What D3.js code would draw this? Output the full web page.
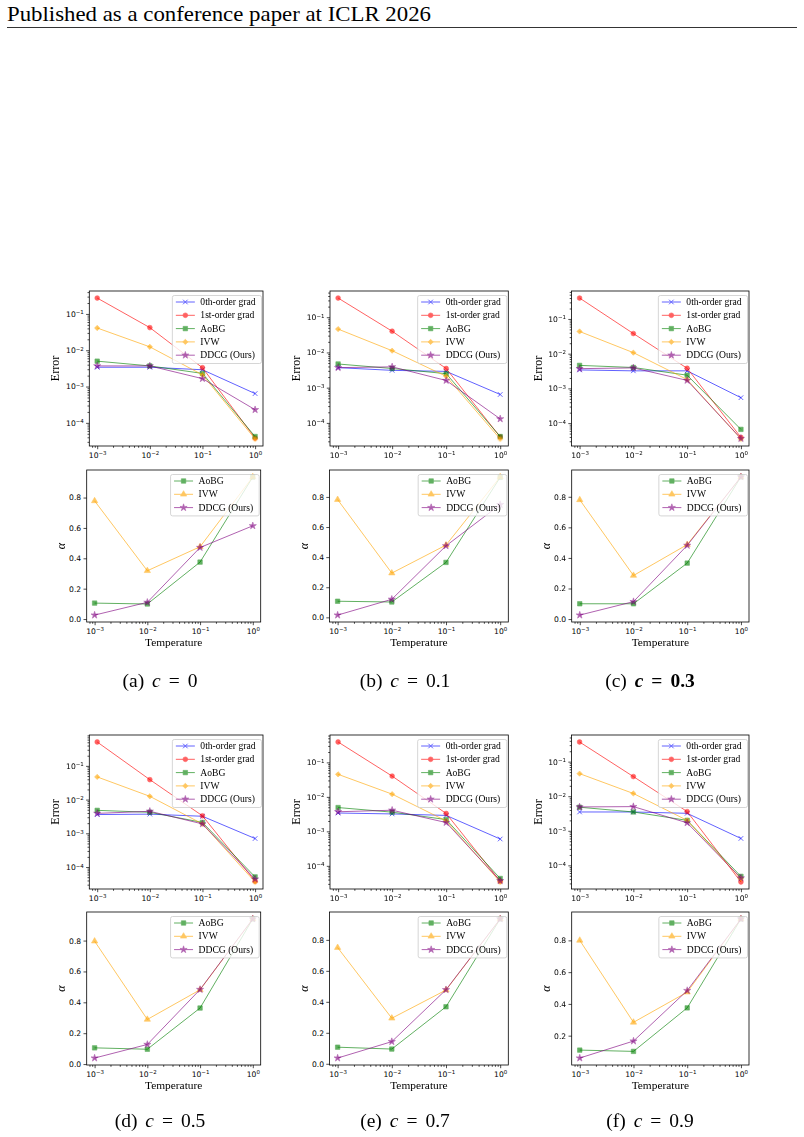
<!DOCTYPE html>
<html>
<head>
<meta charset="utf-8">
<script src="https://cdn.jsdelivr.net/npm/d3@7"></script>
<style>
  body { margin: 0; background: #fff; }
</style>
</head>
<body>
<script>
// temperatures on the x axis
const temps = [1e-3, 1e-2, 1e-1, 1];
const panelLetters = ["a", "b", "c", "d", "e", "f"];
const cValues = ["0", "0.1", "0.3", "0.5", "0.7", "0.9"];
const errLabels = ["0th-order grad", "1st-order grad", "AoBG", "IVW", "DDCG (Ours)"];
const alphaLabels = ["AoBG", "IVW", "DDCG (Ours)"];

// error values, one row per panel (a..f)
const err0th = [
  [0.0034, 0.0034, 0.0029, 6.4e-4],
  [0.0037, 0.0031, 0.0029, 6.4e-4],
  [0.0034, 0.0032, 0.0032, 5.4e-4],
  [0.0036, 0.0037, 0.0032, 7.0e-4],
  [0.0034, 0.0032, 0.0029, 6.0e-4],
  [0.0035, 0.0035, 0.0032, 6.0e-4]
];
const err1st = [
  [0.274, 0.042, 0.0033, 3.8e-5],
  [0.35, 0.040, 0.0035, 4.0e-5],
  [0.40, 0.038, 0.0038, 3.9e-5],
  [0.51, 0.039, 0.0033, 3.8e-5],
  [0.39, 0.040, 0.0033, 3.6e-5],
  [0.37, 0.037, 0.0036, 3.3e-5]
];
const errAoBG = [
  [0.0050, 0.0037, 0.0023, 4.2e-5],
  [0.0047, 0.0035, 0.0025, 4.1e-5],
  [0.0046, 0.0040, 0.0024, 6.6e-5],
  [0.0048, 0.0042, 0.0021, 5.1e-5],
  [0.0049, 0.0036, 0.0022, 4.3e-5],
  [0.0048, 0.0035, 0.0020, 4.8e-5]
];
const errIVW = [
  [0.041, 0.0124, 0.0021, 3.6e-5],
  [0.046, 0.0112, 0.0021, 3.5e-5],
  [0.0436, 0.0107, 0.0018, 3.5e-5],
  [0.047, 0.0125, 0.0019, 3.6e-5],
  [0.045, 0.012, 0.0020, 3.4e-5],
  [0.045, 0.012, 0.0020, 4.1e-5]
];
const errDDCG = [
  [0.0037, 0.0037, 0.00165, 2.3e-4],
  [0.0037, 0.0039, 0.0016, 1.3e-4],
  [0.0037, 0.0039, 0.0017, 3.6e-5],
  [0.0039, 0.0045, 0.0019, 4.4e-5],
  [0.0037, 0.0041, 0.0018, 3.7e-5],
  [0.0049, 0.0050, 0.0017, 4.3e-5]
];

// alpha values
const alphaAoBG = [
  [0.105, 0.099, 0.375, 0.935],
  [0.107, 0.102, 0.365, 0.930],
  [0.100, 0.100, 0.366, 0.930],
  [0.105, 0.096, 0.363, 0.940],
  [0.107, 0.095, 0.368, 0.935],
  [0.109, 0.101, 0.375, 0.935]
];
const alphaIVW = [
  [0.778, 0.318, 0.476, 0.936],
  [0.782, 0.294, 0.480, 0.933],
  [0.780, 0.285, 0.487, 0.930],
  [0.796, 0.289, 0.481, 0.940],
  [0.750, 0.294, 0.476, 0.935],
  [0.800, 0.284, 0.474, 0.935]
];
const alphaDDCG = [
  [0.026, 0.110, 0.471, 0.614],
  [0.015, 0.120, 0.475, 0.749],
  [0.026, 0.114, 0.482, 0.930],
  [0.039, 0.127, 0.483, 0.940],
  [0.037, 0.143, 0.478, 0.935],
  [0.059, 0.166, 0.484, 0.935]
];

const W = 804, H = 1137;
const serif = "'Liberation Serif', 'Times New Roman', serif";
const sans = "'DejaVu Sans', sans-serif";
const ALPHA = 0.62;

const svg = d3.select('body').append('svg')
  .attr('width', W).attr('height', H)
  .attr('viewBox', `0 0 ${W} ${H}`);

svg.append('rect').attr('width', W).attr('height', H).attr('fill', '#fff');

// page header
svg.append('text')
  .attr('x', 7).attr('y', 20.5)
  .attr('font-family', serif).attr('font-size', 21)
  .attr('textLength', 424).attr('lengthAdjust', 'spacingAndGlyphs')
  .text('Published as a conference paper at ICLR 2026');
svg.append('line')
  .attr('x1', 7).attr('x2', 797).attr('y1', 27.5).attr('y2', 27.5)
  .attr('stroke', '#000').attr('stroke-width', 0.8);

// column / row frames of the axes boxes
const cols = [
  { tl: 89.3, tr: 263, bl: 86.7, br: 260.7, cap: 160 },
  { tl: 330, tr: 508.3, bl: 329.5, br: 508.3, cap: 405 },
  { tl: 571.5, tr: 749, bl: 571.7, br: 749, cap: 650 }
];
const rows = [
  { tt: 291, tb: 446, bt: 470, bb: 622, cap: 687 },
  { tt: 735, tb: 889, bt: 912, bb: 1065, cap: 1127 }
];

// marker shapes
function markerPath(type) {
  switch (type) {
    case 'x': return 'M-2.3,-2.3L2.3,2.3M-2.3,2.3L2.3,-2.3';
    case 'o': return d3.symbol(d3.symbolCircle, 18)();
    case 's': return d3.symbol(d3.symbolSquare, 20)();
    case 'D': return d3.symbol(d3.symbolSquare, 14)();
    case '^': return d3.symbol(d3.symbolTriangle, 17)();
    case '*': return d3.symbol(d3.symbolStar, 16)();
  }
}
function addMarker(g, type, color, cx, cy) {
  const p = g.append('path')
    .attr('d', markerPath(type))
    .attr('transform', `translate(${cx},${cy})` + (type === 'D' ? ' rotate(45)' : ''));
  if (type === 'x') p.attr('fill', 'none').attr('stroke', color).attr('stroke-width', 1);
  else p.attr('fill', color).attr('stroke', color).attr('stroke-width', 0.6);
  return p;
}

function supLabel(sel, e) {
  sel.append('tspan').text('10');
  sel.append('tspan').attr('dy', '-0.45em').attr('font-size', '0.72em')
    .text(e < 0 ? '\u2212' + (-e) : String(e));
}

const xMajor = [1e-3, 1e-2, 1e-1, 1];
function minorsIn(domain) {
  const out = [];
  for (let k = -6; k <= 2; k++) for (let m = 2; m <= 9; m++) {
    const v = m * Math.pow(10, k);
    if (v >= domain[0] && v <= domain[1]) out.push(v);
  }
  return out;
}

function drawAxes(g, o) {
  const x = d3.scaleLog().domain([Math.pow(10, -3.15), Math.pow(10, 0.15)]).range([o.left, o.right]);
  const all = o.series.flatMap(s => s.vals);
  let y;
  if (o.log) {
    const lo = Math.log10(d3.min(all)), hi = Math.log10(d3.max(all)), m = (hi - lo) * 0.05;
    y = d3.scaleLog().domain([Math.pow(10, lo - m), Math.pow(10, hi + m)]).range([o.bottom, o.top]);
  } else {
    const lo = d3.min(all), hi = d3.max(all), m = (hi - lo) * 0.05;
    y = d3.scaleLinear().domain([lo - m, hi + m]).range([o.bottom, o.top]);
  }

  // x axis: major + minor ticks
  const gx = g.append('g').attr('transform', `translate(0,${o.bottom})`);
  gx.append('g').call(d3.axisBottom(x).tickValues(minorsIn(x.domain())).tickSize(1.8).tickFormat(''));
  const gxm = gx.append('g').call(d3.axisBottom(x).tickValues(xMajor).tickSize(3.2).tickFormat(''));
  gxm.selectAll('.tick').append('text')
    .attr('y', 11.5).attr('fill', '#000')
    .attr('font-family', sans).attr('font-size', 7.6).attr('text-anchor', 'middle')
    .each(function (d) { supLabel(d3.select(this), Math.round(Math.log10(d))); });

  // y axis
  const gy = g.append('g').attr('transform', `translate(${o.left},0)`);
  if (o.log) {
    gy.append('g').call(d3.axisLeft(y).tickValues(minorsIn(y.domain())).tickSize(1.8).tickFormat(''));
    const majors = [];
    for (let k = -8; k <= 2; k++) {
      const v = Math.pow(10, k);
      if (v >= y.domain()[0] && v <= y.domain()[1]) majors.push(v);
    }
    const gym = gy.append('g').call(d3.axisLeft(y).tickValues(majors).tickSize(3.2).tickFormat(''));
    gym.selectAll('.tick').append('text')
      .attr('x', -5.5).attr('dy', '0.32em').attr('fill', '#000')
      .attr('font-family', sans).attr('font-size', 7.6).attr('text-anchor', 'end')
      .each(function (d) { supLabel(d3.select(this), Math.round(Math.log10(d))); });
  } else {
    gy.append('g').call(d3.axisLeft(y).ticks(5).tickSize(3.2).tickFormat(d3.format('.1f')))
      .selectAll('text')
      .attr('x', -5.5).attr('fill', '#000')
      .attr('font-family', sans).attr('font-size', 7.6);
  }
  g.selectAll('.domain').remove();
  g.selectAll('.tick line').attr('stroke', '#000').attr('stroke-width', 0.7);

  // series
  const line = d3.line().x((d, i) => x(temps[i])).y(d => y(d));
  o.series.forEach(s => {
    const sg = g.append('g').attr('opacity', ALPHA);
    sg.append('path').attr('d', line(s.vals))
      .attr('fill', 'none').attr('stroke', s.color).attr('stroke-width', 1);
    const mg = g.append('g').attr('opacity', ALPHA);
    s.vals.forEach((v, i) => addMarker(mg, s.marker, s.color, x(temps[i]), y(v)));
  });

  // frame
  g.append('rect')
    .attr('x', o.left).attr('y', o.top)
    .attr('width', o.right - o.left).attr('height', o.bottom - o.top)
    .attr('fill', 'none').attr('stroke', '#000').attr('stroke-width', 0.8);

  // legend
  const lg = g.append('g');
  const rowH = 13.3;
  const texts = [];
  o.series.forEach((s, i) => {
    const cy = 6.5 + i * rowH;
    const ig = lg.append('g').attr('opacity', ALPHA);
    ig.append('line').attr('x1', 3.5).attr('x2', 22.5).attr('y1', cy).attr('y2', cy)
      .attr('stroke', s.color).attr('stroke-width', 1);
    addMarker(ig, s.marker, s.color, 13, cy);
    texts.push(lg.append('text').attr('x', 28).attr('y', cy).attr('dy', '0.33em')
      .attr('font-family', serif).attr('font-size', 9.6).text(s.label));
  });
  const tw = d3.max(texts, t => t.node().getComputedTextLength());
  const lw = 28 + tw + 6, lh = o.series.length * rowH + 1.5;
  lg.insert('rect', ':first-child')
    .attr('x', 0).attr('y', 0).attr('width', lw).attr('height', lh)
    .attr('rx', 2).attr('fill', '#fff').attr('fill-opacity', 0.8)
    .attr('stroke', '#ccc').attr('stroke-width', 0.8);
  lg.attr('transform', `translate(${o.right - 1.5 - lw},${o.top + 4.5})`);

  // axis labels
  if (o.ylabel === 'Error') {
    g.append('text')
      .attr('transform', `translate(${o.left - 30},${(o.top + o.bottom) / 2}) rotate(-90)`)
      .attr('text-anchor', 'middle').attr('font-family', serif).attr('font-size', 12)
      .text('Error');
  } else {
    g.append('text')
      .attr('transform', `translate(${o.left - 22},${(o.top + o.bottom) / 2}) rotate(-90)`)
      .attr('text-anchor', 'middle').attr('font-family', serif).attr('font-style', 'italic')
      .attr('font-size', 12).text('\u03b1');
  }
  if (o.xlabel) {
    g.append('text')
      .attr('x', (o.left + o.right) / 2).attr('y', o.bottom + 23.5)
      .attr('text-anchor', 'middle').attr('font-family', serif).attr('font-size', 11.4)
      .text(o.xlabel);
  }
}

panelLetters.forEach((letter, p) => {
  const col = cols[p % 3], row = rows[Math.floor(p / 3)];
  const g = svg.append('g').attr('class', 'panel-' + letter);

  drawAxes(g.append('g'), {
    left: col.tl, right: col.tr, top: row.tt, bottom: row.tb, log: true, ylabel: 'Error',
    series: [
      { vals: err0th[p], color: 'blue', marker: 'x', label: errLabels[0] },
      { vals: err1st[p], color: 'red', marker: 'o', label: errLabels[1] },
      { vals: errAoBG[p], color: 'green', marker: 's', label: errLabels[2] },
      { vals: errIVW[p], color: 'orange', marker: 'D', label: errLabels[3] },
      { vals: errDDCG[p], color: 'purple', marker: '*', label: errLabels[4] }
    ]
  });

  drawAxes(g.append('g'), {
    left: col.bl, right: col.br, top: row.bt, bottom: row.bb, log: false, ylabel: 'alpha',
    xlabel: 'Temperature',
    series: [
      { vals: alphaAoBG[p], color: 'green', marker: 's', label: alphaLabels[0] },
      { vals: alphaIVW[p], color: 'orange', marker: '^', label: alphaLabels[1] },
      { vals: alphaDDCG[p], color: 'purple', marker: '*', label: alphaLabels[2] }
    ]
  });

  // caption: (x) c = value, with math spacing around "="
  const bold = letter === 'c' ? 'bold' : null;
  const t = g.append('text')
    .attr('x', col.cap).attr('y', row.cap)
    .attr('text-anchor', 'middle').attr('font-family', serif).attr('font-size', 19.5);
  t.append('tspan').text(`(${letter})\u00a0`);
  t.append('tspan').attr('dx', 3).attr('font-style', 'italic').attr('font-weight', bold).text('c');
  t.append('tspan').attr('dx', 8).attr('font-weight', bold).text('=');
  t.append('tspan').attr('dx', 8).attr('font-weight', bold).text(cValues[p]);
});
</script>
</body>
</html>
